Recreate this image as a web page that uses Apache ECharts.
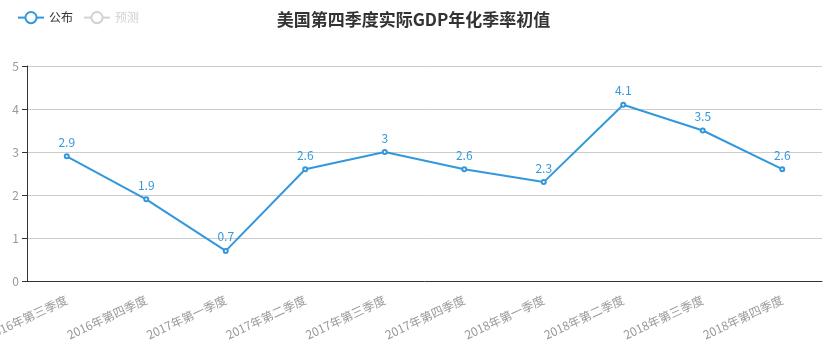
<!DOCTYPE html>
<html>
<head>
<meta charset="utf-8">
<script src="https://cdn.jsdelivr.net/npm/echarts@6/dist/echarts.min.js"></script>
<style>
	html, body { margin: 0; padding: 0; background: #fff; }
	#chart { width: 827px; height: 351px; }
</style>
</head>
<body>
<div id="chart"></div>
<script>
// 季度
const quarters = [
	'2016年第三季度', '2016年第四季度', '2017年第一季度', '2017年第二季度', '2017年第三季度',
	'2017年第四季度', '2018年第一季度', '2018年第二季度', '2018年第三季度', '2018年第四季度',
];
// 公布值
const published = [2.9, 1.9, 0.7, 2.6, 3, 2.6, 2.3, 4.1, 3.5, 2.6];
// 预测值 (图上未显示)
const forecast = [];

const chart = echarts.init(document.getElementById('chart'), null, { renderer: 'canvas' });
const font = '"Noto Sans CJK SC", "Microsoft YaHei", sans-serif';

chart.setOption({
	backgroundColor: '#FFFFFF',
	textStyle: { fontFamily: font },
	title: {
		text: '美国第四季度实际GDP年化季率初值',
		left: 'center',
		top: 6,
		textStyle: { fontSize: 17, fontWeight: 'bold', color: '#333', fontFamily: font },
	},
	legend: {
		left: 12,
		top: 6,
		itemWidth: 26,
		itemHeight: 14,
		itemGap: 10,
		textStyle: { fontSize: 12, color: '#333' },
		data: ['公布', '预测'],
		selected: { '预测': false },
	},
	grid: { left: 27, right: 5, top: 66, bottom: 70, containLabel: false, outerBoundsMode: 'none' },
	xAxis: {
		type: 'category',
		data: quarters,
		axisLine: { lineStyle: { color: '#333' } },
		axisTick: { lineStyle: { color: '#333' } },
		axisLabel: { rotate: 25, color: '#999', fontSize: 12, interval: 0, margin: 18 },
	},
	yAxis: {
		type: 'value',
		min: 0,
		max: 5,
		interval: 1,
		axisLine: { show: true, lineStyle: { color: '#333' } },
		axisTick: { show: true, lineStyle: { color: '#333' } },
		axisLabel: { color: '#999', fontSize: 12 },
		splitLine: { lineStyle: { color: '#ccc' } },
	},
	series: [
		{
			name: '公布',
			type: 'line',
			data: published,
			color: '#3398DB',
			symbol: 'emptyCircle',
			symbolSize: 4,
			lineStyle: { width: 2 },
			itemStyle: { borderWidth: 1.5 },
			label: { show: true, position: 'top', color: '#3398DB', fontSize: 12 },
		},
		{
			name: '预测',
			type: 'line',
			data: forecast,
			color: '#8fd3e8',
			symbol: 'emptyCircle',
		},
	],
	animation: false,
});
</script>
</body>
</html>
